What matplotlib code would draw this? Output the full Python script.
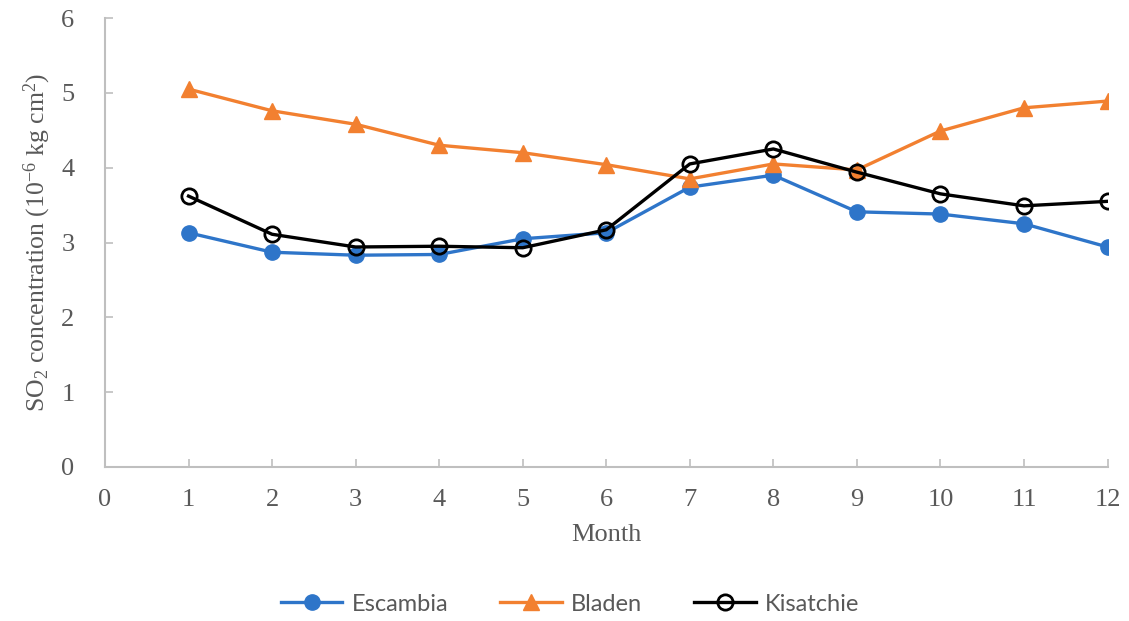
import matplotlib

matplotlib.use("Agg")
import matplotlib.pyplot as plt

months = [1, 2, 3, 4, 5, 6, 7, 8, 9, 10, 11, 12]
escambia = [3.13, 2.87, 2.83, 2.84, 3.05, 3.13, 3.74, 3.90, 3.41, 3.38, 3.25, 2.94]
bladen = [5.05, 4.76, 4.58, 4.30, 4.20, 4.04, 3.85, 4.05, 3.97, 4.49, 4.80, 4.89]
kisatchie = [3.62, 3.11, 2.94, 2.95, 2.93, 3.17, 4.05, 4.25, 3.94, 3.65, 3.49, 3.55]

x_ticks = list(range(0, 13))
y_ticks = list(range(0, 7))

plt.rcParams["font.family"] = ["Liberation Serif", "DejaVu Serif"]
plt.rcParams["mathtext.fontset"] = "custom"
plt.rcParams["mathtext.rm"] = "Liberation Serif"
plt.rcParams["mathtext.it"] = "Liberation Serif:italic"

AXIS_GREY = "#bfbfbf"
TEXT_GREY = "#595959"

fig = plt.figure(figsize=(11.29, 6.21), dpi=100)
ax = fig.add_axes([0.093, 0.248, 0.888, 0.723])

ax.plot(months, escambia, color="#2e75c9", linewidth=2.4, marker="o",
        markersize=11, label="Escambia")
ax.plot(months, bladen, color="#f28030", linewidth=2.4, marker="^",
        markersize=11, label="Bladen")
ax.plot(months, kisatchie, color="black", linewidth=2.4, marker="o",
        markersize=11, markerfacecolor="none", markeredgewidth=2,
        label="Kisatchie")

ax.set_xlim(0, 12)
ax.set_ylim(0, 6)
ax.set_xticks(x_ticks)
ax.set_yticks(y_ticks)

for side in ("top", "right"):
    ax.spines[side].set_visible(False)
for side in ("left", "bottom"):
    ax.spines[side].set_color(AXIS_GREY)
    ax.spines[side].set_linewidth(1.5)

ax.tick_params(direction="in", length=6, width=1.2, color=AXIS_GREY,
               labelcolor=TEXT_GREY, labelsize=19)
ax.tick_params(axis="x", pad=16)
ax.tick_params(axis="y", pad=22)

ax.set_xlabel("Month", fontsize=19, color=TEXT_GREY, labelpad=9)
ax.set_ylabel(r"SO$_2$ concentration (10$^{-6}$ kg cm$^2$)",
              fontsize=18.5, color=TEXT_GREY, labelpad=6)

leg = fig.legend(loc="center", bbox_to_anchor=(0.505, 0.027), ncol=3,
                 frameon=False, handlelength=2.6, handletextpad=0.4,
                 columnspacing=2.2, prop={"family": "Lato", "size": 17})
for t in leg.get_texts():
    t.set_color(TEXT_GREY)

fig.savefig("out.png", dpi=100)
plt.close(fig)
